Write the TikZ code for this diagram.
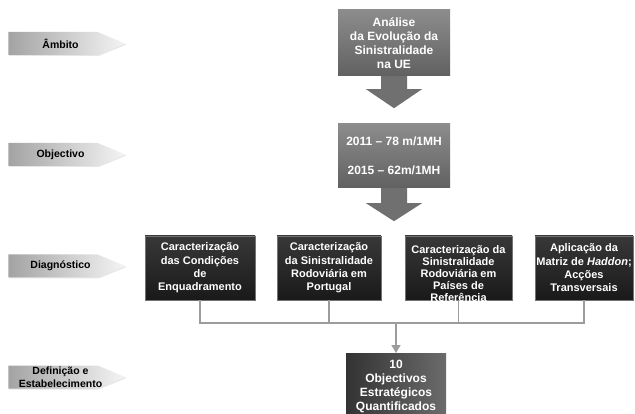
\documentclass[tikz,border=0pt]{standalone}
\usepackage{fontspec}
\setmainfont{Liberation Sans}
\usetikzlibrary{positioning, calc, arrows.meta, shapes.symbols, shadows}

\definecolor{linegray}{HTML}{9C9C9C}

\begin{document}
\begin{tikzpicture}[
    x=1pt, y=-1pt,
    every node/.style={align=center, inner sep=0pt},
    tag/.style={signal, signal to=east, signal pointer angle=45, minimum width=117pt, minimum height=23pt,
        left color=black!36, right color=black!4, font=\fontsize{10.5}{12.5}\selectfont\bfseries,
        drop shadow={opacity=0.2, shadow xshift=1pt, shadow yshift=-1pt}},
    callout/.style={rectangle, minimum width=112pt, top color=black!45, bottom color=black!62, text=white,
        font=\fontsize{12}{14}\selectfont\bfseries},
    pointer/.style={fill=black!56},
    darkbox/.style={rectangle, minimum height=64pt, draw=black!55, line width=0.4pt,
        top color=black!78, bottom color=black!90, text=white, font=\fontsize{11}{13.3}\selectfont\bfseries},
    goalbox/.style={rectangle, minimum width=100pt, minimum height=66pt, left color=black!80, right color=black!58,
        text=white, font=\fontsize{12}{14}\selectfont\bfseries},
    link/.style={draw=linegray, line width=1.6pt},
    arrow/.style={link, -{Triangle[length=8pt, width=9pt]}}
]
\useasboundingbox (0,0) rectangle (635,414);

% stage tags on the left
\node[tag] (ambito) at (53,43.5) {\hspace*{15pt}Âmbito};
\node[tag] (objectivo) at (53,154.5) {\hspace*{15pt}Objectivo};
\node[tag] (diagnostico) at (53,266) {\hspace*{15pt}Diagnóstico};
\node[tag] (definicao) at (53,377) {\hspace*{15pt}\makebox[72pt]{Definição e}\\\hspace*{15pt}\makebox[72pt]{Estabelecimento}};

% top callouts
\node[callout, minimum height=66pt] (analise) at (394,43) {Análise\\da Evolução da\\Sinistralidade\\na UE};
\fill[pointer] ([xshift=-13pt]analise.south) -- ++(0,13) -- ++(-15,0) -- ($(analise.south)+(0,32)$)
    -- ++(28,-19) -- ++(-15,0) -- ++(0,-13) -- cycle;

\node[callout, minimum height=64pt] (meta) at (394,156) {2011 – 78 m/1MH\\[15pt]2015 – 62m/1MH};
\fill[pointer] ([xshift=-13pt]meta.south) -- ++(0,15) -- ++(-15,0) -- ($(meta.south)+(0,33)$)
    -- ++(28,-18) -- ++(-15,0) -- ++(0,-15) -- cycle;

% diagnosis boxes
\node[darkbox, minimum width=110pt] (enquadramento) at (200,268) {Caracterização\\das Condições\\de\\Enquadramento};
\node[darkbox, minimum width=104pt] (portugal) at (329,268) {Caracterização\\da Sinistralidade\\Rodoviária em\\Portugal};
\node[darkbox, minimum width=107pt] (referencia) at (458.5,268) {};
\node[text=white, font=\fontsize{11}{12}\selectfont\bfseries] (referenciatxt) at (458.5,274)
    {Caracterização da\\Sinistralidade\\Rodoviária em\\Países de\\Referência};
\node[darkbox, minimum width=98pt] (haddon) at (584,268) {Aplicação da\\Matriz de \textit{Haddon};\\Acções\\Transversais};

% result
\node[goalbox, anchor=north] (objectivos) at (396,353) {10\\Objectivos\\Estratégicos\\Quantificados};

\coordinate (hub) at (396,323);
\draw[link] (enquadramento.south) |- (hub) -| (haddon.south);
\draw[link] (portugal.south) -- (portugal.south |- hub);
\draw[link] (referencia.south) -- (referencia.south |- hub);
\draw[arrow] (hub) -- (objectivos.north);

\end{tikzpicture}
\end{document}
